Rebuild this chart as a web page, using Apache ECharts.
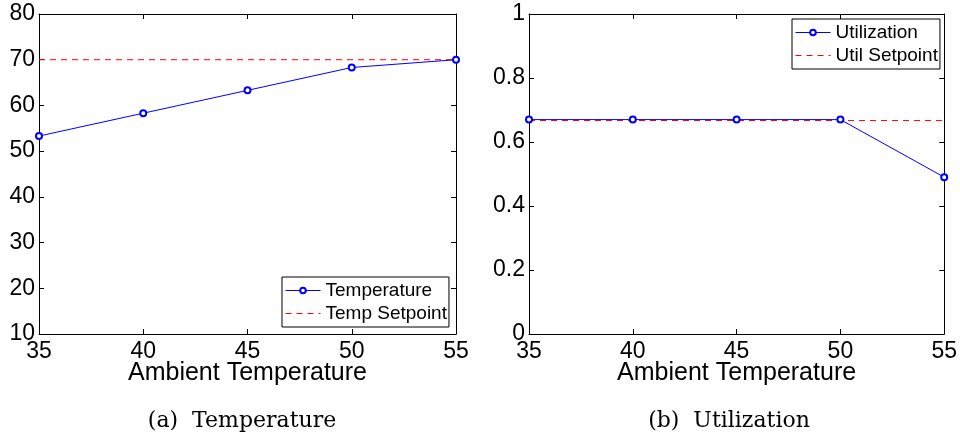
<!DOCTYPE html>
<html>
<head>
<meta charset="utf-8">
<script src="https://cdn.jsdelivr.net/npm/echarts@6/dist/echarts.min.js"></script>
<style>html,body{margin:0;padding:0;background:#fff}#c{width:960px;height:434px}</style>
</head>
<body>
<div id="c"></div>
<script>
const ambient = [35, 40, 45, 50, 55];
const temperature = [53.3, 58.3, 63.3, 68.3, 70.0];
const tempSetpoint = 70;
const utilization = [0.67, 0.67, 0.67, 0.67, 0.49];
const utilSetpoint = 0.667;
const xLabel = 'Ambient Temperature';
const captions = ['(a)  Temperature', '(b)  Utilization'];
const legendNames = [['Temperature', 'Temp Setpoint'], ['Utilization', 'Util Setpoint']];

const SANS = 'Liberation Sans';
const SERIF = 'DejaVu Serif';

function pairs(ys) { return ambient.map((x, i) => [x, ys[i]]); }
function flat(v) { return [[ambient[0], v], [ambient[ambient.length - 1], v]]; }

function xAxes(g) {
  return [
    {
      type: 'value', gridIndex: g, min: 35, max: 55, interval: 5, position: 'bottom',
      name: xLabel, nameLocation: 'middle', nameGap: 27, nameMoveOverlap: false,
      nameTextStyle: { fontFamily: SANS, fontSize: 25, color: '#000', verticalAlign: 'top' },
      axisLine: { show: true, onZero: false, lineStyle: { color: '#000', width: 1 } },
      axisTick: { show: true, inside: true, length: 5, lineStyle: { color: '#000' } },
      axisLabel: { fontFamily: SANS, fontSize: 23, color: '#000', margin: 6 },
      splitLine: { show: false }
    },
    {
      type: 'value', gridIndex: g, min: 35, max: 55, interval: 5, position: 'top',
      axisLine: { show: true, onZero: false, lineStyle: { color: '#000', width: 1 } },
      axisTick: { show: true, inside: true, length: 5, lineStyle: { color: '#000' } },
      axisLabel: { show: false }, splitLine: { show: false }
    }
  ];
}
function yAxes(g, min, max, interval) {
  return [
    {
      type: 'value', gridIndex: g, min, max, interval, position: 'left',
      axisLine: { show: true, onZero: false, lineStyle: { color: '#000', width: 1 } },
      axisTick: { show: true, inside: true, length: 5, lineStyle: { color: '#000' } },
      axisLabel: { fontFamily: SANS, fontSize: 23, color: '#000', margin: 4 },
      splitLine: { show: false }
    },
    {
      type: 'value', gridIndex: g, min, max, interval, position: 'right',
      axisLine: { show: true, onZero: false, lineStyle: { color: '#000', width: 1 } },
      axisTick: { show: true, inside: true, length: 5, lineStyle: { color: '#000' } },
      axisLabel: { show: false }, splitLine: { show: false }
    }
  ];
}
function mainSeries(name, xi, yi, ys) {
  return {
    name, type: 'line', xAxisIndex: xi, yAxisIndex: yi, data: pairs(ys),
    symbol: 'emptyCircle', symbolSize: 6, showSymbol: true,
    lineStyle: { color: '#0000ff', width: 1 },
    itemStyle: { color: '#0000ff', borderColor: '#0000ff', borderWidth: 1 },
    animation: false, z: 3
  };
}
function setSeries(name, xi, yi, v) {
  return {
    name, type: 'line', xAxisIndex: xi, yAxisIndex: yi, data: flat(v),
    symbol: 'none', showSymbol: false,
    lineStyle: { color: '#ff0000', width: 1, type: [6, 5] },
    itemStyle: { color: '#ff0000' },
    animation: false, z: 2
  };
}
function legend(names, left, top) {
  return {
    data: [
      { name: names[0], lineStyle: { width: 1 } },
      { name: names[1], itemStyle: { opacity: 0 }, lineStyle: { width: 1 } }
    ],
    orient: 'vertical', left, top,
    backgroundColor: '#fff', borderColor: '#000', borderWidth: 1,
    padding: [4, 2, 4, 3], itemGap: 4, itemWidth: 35, itemHeight: 7,
    lineStyle: { width: 1 },
    textStyle: { fontFamily: SANS, fontSize: 19, color: '#000', lineHeight: 19 },
    selectedMode: false
  };
}

const chart = echarts.init(document.getElementById('c'), null, { renderer: 'canvas' });
chart.setOption({
  backgroundColor: '#fff',
  animation: false,
  grid: [
    { left: 39, top: 14, width: 417, height: 320 },
    { left: 529, top: 14, width: 417, height: 320 }
  ],
  xAxis: [...xAxes(0), ...xAxes(1)],
  yAxis: [...yAxes(0, 10, 80, 10), ...yAxes(1, 0, 1, 0.2)],
  title: [
    { text: captions[0], left: 237, top: 405, textAlign: 'center',
      textStyle: { fontFamily: SERIF, fontSize: 22, fontWeight: 'normal', color: '#000' } },
    { text: captions[1], left: 724, top: 405, textAlign: 'center',
      textStyle: { fontFamily: SERIF, fontSize: 22, fontWeight: 'normal', color: '#000' } }
  ],
  legend: [legend(legendNames[0], 282, 277), legend(legendNames[1], 792, 19)],
  series: [
    mainSeries(legendNames[0][0], 0, 0, temperature),
    setSeries(legendNames[0][1], 0, 0, tempSetpoint),
    mainSeries(legendNames[1][0], 2, 2, utilization),
    setSeries(legendNames[1][1], 2, 2, utilSetpoint)
  ]
});
</script>
</body>
</html>
